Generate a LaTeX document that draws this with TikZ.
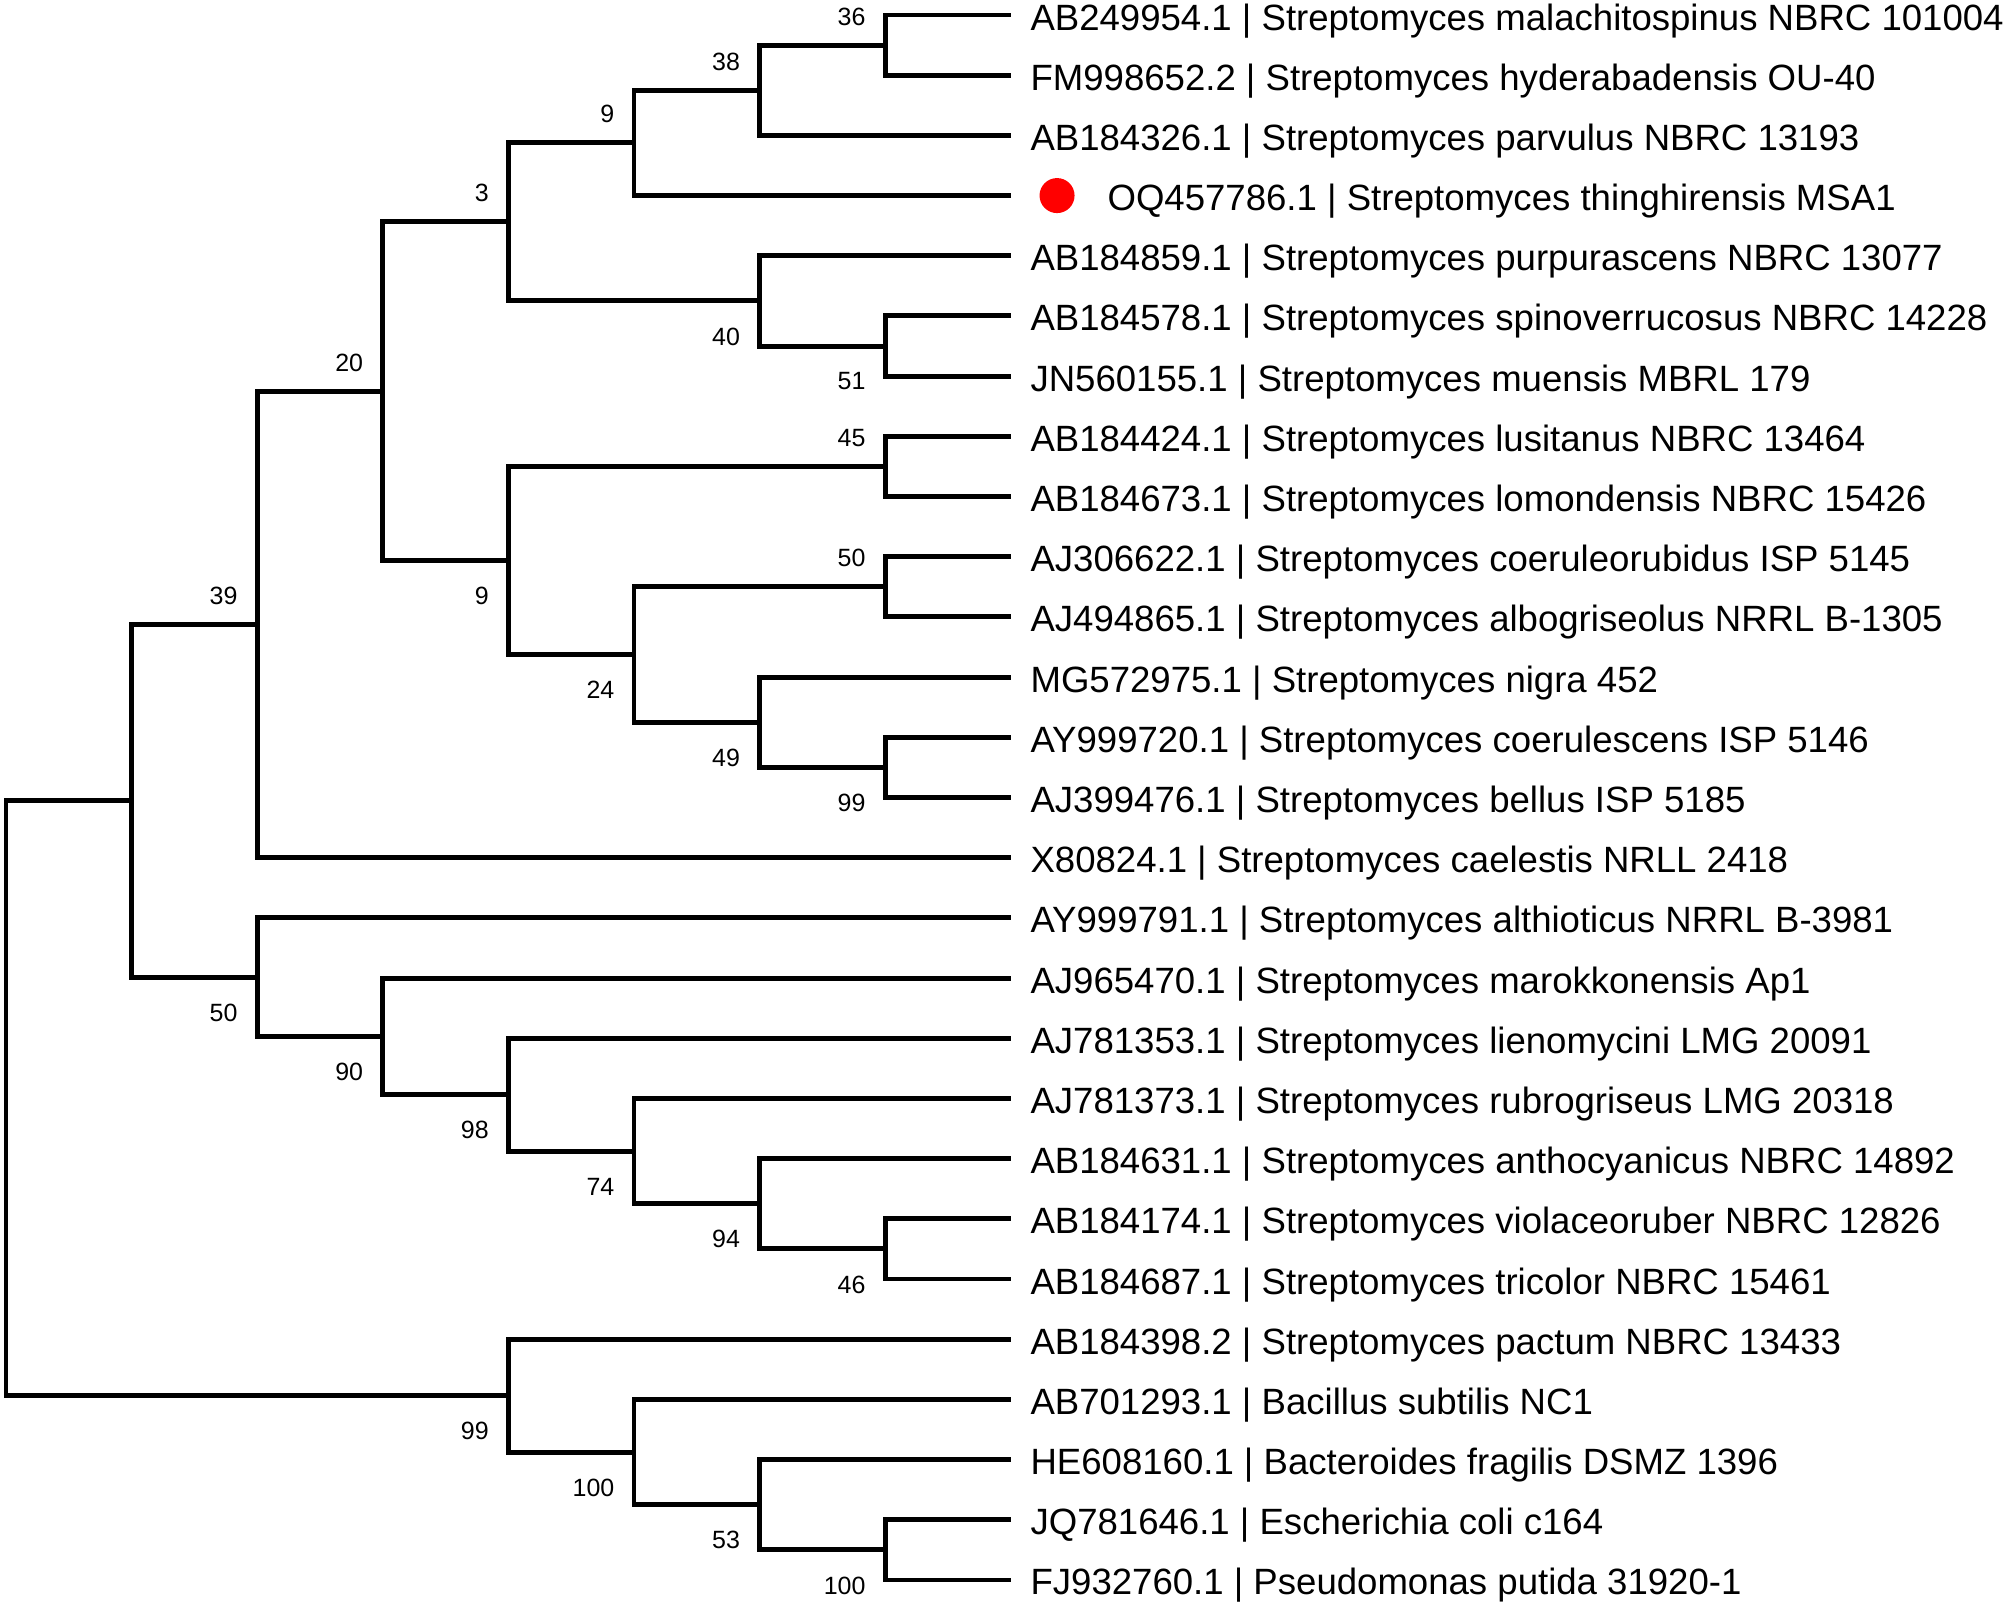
\documentclass[tikz,border=0pt]{standalone}
\usepackage{fontspec}
\setmainfont{Liberation Sans}
\usetikzlibrary{positioning, calc}

\begin{document}
\begin{tikzpicture}[
    x=0.01cm, y=-0.01cm,
    branch/.style={line width=1.4pt},
    leaf/.style={inner sep=0pt, yshift=-0.15cm, font=\fontsize{10.4}{12}\selectfont},
    bsup/.style={anchor=south east, inner sep=0pt, xshift=-0.19cm, yshift=0.19cm, font=\fontsize{7.1}{8}\selectfont},
    bsdown/.style={anchor=north east, inner sep=0pt, xshift=-0.19cm, yshift=-0.26cm, font=\fontsize{7.1}{8}\selectfont},
    query/.style={circle, fill=red, minimum size=0.35cm, inner sep=0pt}
]
    \useasboundingbox (0,0) rectangle (2007,1606);

    % depth levels and leaf tips
    \foreach \k in {0,...,8} \coordinate (x\k) at ({6+125.6*\k}, 0);
    \foreach \i in {1,...,27} \coordinate (t\i) at (1010.8, {15+60.19*(\i-1)});

    % leaves
    \node[leaf, base right=0.19cm of t1] (malachitospinus) {AB249954.1 | Streptomyces malachitospinus NBRC 101004};
    \node[leaf, base right=0.19cm of t2] (hyderabadensis) {FM998652.2 | Streptomyces hyderabadensis OU-40};
    \node[leaf, base right=0.19cm of t3] (parvulus) {AB184326.1 | Streptomyces parvulus NBRC 13193};
    \node[query, right=0.28cm of t4] (dot) {};
    \node[leaf, base right=0.96cm of t4] (thinghirensis) {OQ457786.1 | Streptomyces thinghirensis MSA1};
    \node[leaf, base right=0.19cm of t5] (purpurascens) {AB184859.1 | Streptomyces purpurascens NBRC 13077};
    \node[leaf, base right=0.19cm of t6] (spinoverrucosus) {AB184578.1 | Streptomyces spinoverrucosus NBRC 14228};
    \node[leaf, base right=0.19cm of t7] (muensis) {JN560155.1 | Streptomyces muensis MBRL 179};
    \node[leaf, base right=0.19cm of t8] (lusitanus) {AB184424.1 | Streptomyces lusitanus NBRC 13464};
    \node[leaf, base right=0.19cm of t9] (lomondensis) {AB184673.1 | Streptomyces lomondensis NBRC 15426};
    \node[leaf, base right=0.19cm of t10] (coeruleorubidus) {AJ306622.1 | Streptomyces coeruleorubidus ISP 5145};
    \node[leaf, base right=0.19cm of t11] (albogriseolus) {AJ494865.1 | Streptomyces albogriseolus NRRL B-1305};
    \node[leaf, base right=0.19cm of t12] (nigra) {MG572975.1 | Streptomyces nigra 452};
    \node[leaf, base right=0.19cm of t13] (coerulescens) {AY999720.1 | Streptomyces coerulescens ISP 5146};
    \node[leaf, base right=0.19cm of t14] (bellus) {AJ399476.1 | Streptomyces bellus ISP 5185};
    \node[leaf, base right=0.19cm of t15] (caelestis) {X80824.1 | Streptomyces caelestis NRLL 2418};
    \node[leaf, base right=0.19cm of t16] (althioticus) {AY999791.1 | Streptomyces althioticus NRRL B-3981};
    \node[leaf, base right=0.19cm of t17] (marokkonensis) {AJ965470.1 | Streptomyces marokkonensis Ap1};
    \node[leaf, base right=0.19cm of t18] (lienomycini) {AJ781353.1 | Streptomyces lienomycini LMG 20091};
    \node[leaf, base right=0.19cm of t19] (rubrogriseus) {AJ781373.1 | Streptomyces rubrogriseus LMG 20318};
    \node[leaf, base right=0.19cm of t20] (anthocyanicus) {AB184631.1 | Streptomyces anthocyanicus NBRC 14892};
    \node[leaf, base right=0.19cm of t21] (violaceoruber) {AB184174.1 | Streptomyces violaceoruber NBRC 12826};
    \node[leaf, base right=0.19cm of t22] (tricolor) {AB184687.1 | Streptomyces tricolor NBRC 15461};
    \node[leaf, base right=0.19cm of t23] (pactum) {AB184398.2 | Streptomyces pactum NBRC 13433};
    \node[leaf, base right=0.19cm of t24] (bacillus) {AB701293.1 | Bacillus subtilis NC1};
    \node[leaf, base right=0.19cm of t25] (bacteroides) {HE608160.1 | Bacteroides fragilis DSMZ 1396};
    \node[leaf, base right=0.19cm of t26] (ecoli) {JQ781646.1 | Escherichia coli c164};
    \node[leaf, base right=0.19cm of t27] (pseudomonas) {FJ932760.1 | Pseudomonas putida 31920-1};

    % clades
    \coordinate (cA) at ($(x7|-t1)!.5!(x7|-t2)$);
    \coordinate (cB) at ($(x6|-cA)!.5!(x6|-t3)$);
    \coordinate (cC) at ($(x5|-cB)!.5!(x5|-t4)$);
    \coordinate (cE) at ($(x7|-t6)!.5!(x7|-t7)$);
    \coordinate (cD) at ($(x6|-t5)!.5!(x6|-cE)$);
    \coordinate (cF) at ($(x4|-cC)!.5!(x4|-cD)$);
    \coordinate (cG) at ($(x7|-t8)!.5!(x7|-t9)$);
    \coordinate (cH) at ($(x7|-t10)!.5!(x7|-t11)$);
    \coordinate (cI) at ($(x7|-t13)!.5!(x7|-t14)$);
    \coordinate (cJ) at ($(x6|-t12)!.5!(x6|-cI)$);
    \coordinate (cK) at ($(x5|-cH)!.5!(x5|-cJ)$);
    \coordinate (cL) at ($(x4|-cG)!.5!(x4|-cK)$);
    \coordinate (cM) at ($(x3|-cF)!.5!(x3|-cL)$);
    \coordinate (cN) at ($(x2|-cM)!.5!(x2|-t15)$);
    \coordinate (cO) at ($(x7|-t21)!.5!(x7|-t22)$);
    \coordinate (cP) at ($(x6|-t20)!.5!(x6|-cO)$);
    \coordinate (cQ) at ($(x5|-t19)!.5!(x5|-cP)$);
    \coordinate (cR) at ($(x4|-t18)!.5!(x4|-cQ)$);
    \coordinate (cS) at ($(x3|-t17)!.5!(x3|-cR)$);
    \coordinate (cT) at ($(x2|-t16)!.5!(x2|-cS)$);
    \coordinate (cU) at ($(x1|-cN)!.5!(x1|-cT)$);
    \coordinate (cV) at ($(x7|-t26)!.5!(x7|-t27)$);
    \coordinate (cW) at ($(x6|-t25)!.5!(x6|-cV)$);
    \coordinate (cX) at ($(x5|-t24)!.5!(x5|-cW)$);
    \coordinate (cY) at ($(x4|-t23)!.5!(x4|-cX)$);
    \coordinate (root) at ($(x0|-cU)!.5!(x0|-cY)$);

    % branches
    \draw[branch] (t1) -| (cA) |- (t2);
    \draw[branch] (cA) -| (cB) |- (t3);
    \draw[branch] (cB) -| (cC) |- (t4);
    \draw[branch] (t6) -| (cE) |- (t7);
    \draw[branch] (t5) -| (cD) |- (cE);
    \draw[branch] (cC) -| (cF) |- (cD);
    \draw[branch] (t8) -| (cG) |- (t9);
    \draw[branch] (t10) -| (cH) |- (t11);
    \draw[branch] (t13) -| (cI) |- (t14);
    \draw[branch] (t12) -| (cJ) |- (cI);
    \draw[branch] (cH) -| (cK) |- (cJ);
    \draw[branch] (cG) -| (cL) |- (cK);
    \draw[branch] (cF) -| (cM) |- (cL);
    \draw[branch] (cM) -| (cN) |- (t15);
    \draw[branch] (t21) -| (cO) |- (t22);
    \draw[branch] (t20) -| (cP) |- (cO);
    \draw[branch] (t19) -| (cQ) |- (cP);
    \draw[branch] (t18) -| (cR) |- (cQ);
    \draw[branch] (t17) -| (cS) |- (cR);
    \draw[branch] (t16) -| (cT) |- (cS);
    \draw[branch] (cN) -| (cU) |- (cT);
    \draw[branch] (t26) -| (cV) |- (t27);
    \draw[branch] (t25) -| (cW) |- (cV);
    \draw[branch] (t24) -| (cX) |- (cW);
    \draw[branch] (t23) -| (cY) |- (cX);
    \draw[branch] (cU) -| (root) |- (cY);

    % bootstrap values
    \node[bsup] (bA) at (cA) {36};
    \node[bsup] (bB) at (cB) {38};
    \node[bsup] (bC) at (cC) {9};
    \node[bsdown] (bE) at (cE) {51};
    \node[bsdown] (bD) at (cD) {40};
    \node[bsup] (bF) at (cF) {3};
    \node[bsup] (bG) at (cG) {45};
    \node[bsup] (bH) at (cH) {50};
    \node[bsdown] (bI) at (cI) {99};
    \node[bsdown] (bJ) at (cJ) {49};
    \node[bsdown] (bK) at (cK) {24};
    \node[bsdown] (bL) at (cL) {9};
    \node[bsup] (bM) at (cM) {20};
    \node[bsup] (bN) at (cN) {39};
    \node[bsdown] (bO) at (cO) {46};
    \node[bsdown] (bP) at (cP) {94};
    \node[bsdown] (bQ) at (cQ) {74};
    \node[bsdown] (bR) at (cR) {98};
    \node[bsdown] (bS) at (cS) {90};
    \node[bsdown] (bT) at (cT) {50};
    \node[bsdown] (bV) at (cV) {100};
    \node[bsdown] (bW) at (cW) {53};
    \node[bsdown] (bX) at (cX) {100};
    \node[bsdown] (bY) at (cY) {99};
\end{tikzpicture}
\end{document}
